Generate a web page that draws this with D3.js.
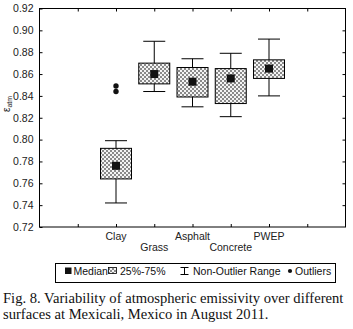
<!DOCTYPE html>
<html>
<head>
<meta charset="utf-8">
<script src="https://cdn.jsdelivr.net/npm/d3@7"></script>
<style>
    body { margin: 0; background: #fff; }
    svg { display: block; }
    .tick-label { font-family: "Liberation Sans", Arial, sans-serif; font-size: 10.5px; fill: #222; }
    .leg-label { font-family: "Liberation Sans", Arial, sans-serif; font-size: 10.5px; fill: #111; }
    .caption { font-family: "Liberation Serif", "Times New Roman", serif; font-size: 14.6px; fill: #111; }
</style>
</head>
<body>
<div id="chart"></div>
<script>
// surfaces, staggered on the x axis
const surfaces = ["Clay", "Grass", "Asphalt", "Concrete", "PWEP"];
// box plot statistics per surface (atmospheric emissivity)
const medians = [0.776, 0.860, 0.853, 0.856, 0.865];
const q1 = [0.764, 0.851, 0.839, 0.833, 0.856];
const q3 = [0.792, 0.870, 0.866, 0.865, 0.873];
const whiskLow = [0.742, 0.844, 0.830, 0.821, 0.840];
const whiskHigh = [0.799, 0.890, 0.874, 0.879, 0.892];
// outliers: [surface, value]
const outliers = [["Clay", 0.849], ["Clay", 0.844]];
const yTicks = [0.72, 0.74, 0.76, 0.78, 0.80, 0.82, 0.84, 0.86, 0.88, 0.90, 0.92];

const width = 353, height = 329;
const plot = {left: 39.5, right: 345.5, top: 8.5, bottom: 227};

let svg = d3.select("#chart").append("svg")
    .attr("width", width).attr("height", height);

// checkered fill used for the boxes
let defs = svg.append("defs");
let pat = defs.append("pattern").attr("id", "check")
    .attr("patternUnits", "userSpaceOnUse").attr("width", 4).attr("height", 4);
pat.append("rect").attr("width", 4).attr("height", 4).attr("fill", "#f4f4f4");
pat.append("rect").attr("width", 2).attr("height", 2).attr("fill", "#8a8a8a");
pat.append("rect").attr("x", 2).attr("y", 2).attr("width", 2).attr("height", 2).attr("fill", "#8a8a8a");

// x slots: one empty slot each side of the surfaces
let slots = ["pad0"].concat(surfaces).concat(["pad1"]);
let x = d3.scalePoint().domain(slots).range([plot.left, plot.right]).padding(1);
let y = d3.scaleLinear().domain([0.72, 0.92]).range([plot.bottom, plot.top]);

// axes with inward ticks on all four sides
let tickLen = 3;
svg.append("g").attr("transform", `translate(${plot.left},0)`)
    .call(d3.axisLeft(y).tickValues(yTicks).tickSizeInner(-tickLen).tickSizeOuter(0).tickPadding(6)
        .tickFormat(d3.format(".2f")))
    .call(g => g.select(".domain").remove())
    .call(g => g.selectAll("text").attr("class", "tick-label").attr("font-size", null).attr("font-family", null));
svg.append("g").attr("transform", `translate(${plot.right},0)`)
    .call(d3.axisRight(y).tickValues(yTicks.slice(1, -1)).tickSizeInner(-tickLen).tickSizeOuter(0).tickFormat(""))
    .call(g => g.select(".domain").remove());

let xTicks = x.domain();
svg.append("g").attr("transform", `translate(0,${plot.top})`)
    .call(d3.axisTop(x).tickValues(xTicks).tickSizeInner(-tickLen).tickSizeOuter(0).tickFormat(""))
    .call(g => g.select(".domain").remove());
svg.append("g").attr("transform", `translate(0,${plot.bottom})`)
    .call(d3.axisBottom(x).tickValues(xTicks).tickSizeInner(-tickLen).tickSizeOuter(0).tickFormat(""))
    .call(g => g.select(".domain").remove());

svg.append("rect")
    .attr("x", plot.left).attr("y", plot.top)
    .attr("width", plot.right - plot.left).attr("height", plot.bottom - plot.top)
    .attr("fill", "none").attr("stroke", "#000").attr("stroke-width", 1);

// staggered category labels
svg.selectAll(".xlab").data(surfaces).join("text")
    .attr("class", "tick-label xlab")
    .attr("x", d => x(d))
    .attr("y", (d, i) => i % 2 === 0 ? 240 : 250.5)
    .attr("text-anchor", "middle")
    .text(d => d);

// y axis label: epsilon atm
let ylab = svg.append("text").attr("class", "tick-label")
    .attr("transform", "translate(10,104) rotate(-90)")
    .attr("text-anchor", "middle");
ylab.append("tspan").text("ε").attr("font-size", "10px");
ylab.append("tspan").text("atm").attr("font-size", "7px").attr("dy", 2);

// box plots
let boxW = 31, capW = 22, medS = 8;
let boxes = svg.append("g").selectAll("g").data(surfaces).join("g");
boxes.append("line")
    .attr("x1", d => x(d)).attr("x2", d => x(d))
    .attr("y1", (d, i) => y(whiskHigh[i])).attr("y2", (d, i) => y(whiskLow[i]))
    .attr("stroke", "#000");
boxes.append("line")
    .attr("x1", d => x(d) - capW / 2).attr("x2", d => x(d) + capW / 2)
    .attr("y1", (d, i) => y(whiskHigh[i])).attr("y2", (d, i) => y(whiskHigh[i]))
    .attr("stroke", "#000");
boxes.append("line")
    .attr("x1", d => x(d) - capW / 2).attr("x2", d => x(d) + capW / 2)
    .attr("y1", (d, i) => y(whiskLow[i])).attr("y2", (d, i) => y(whiskLow[i]))
    .attr("stroke", "#000");
boxes.append("rect")
    .attr("x", d => x(d) - boxW / 2).attr("width", boxW)
    .attr("y", (d, i) => y(q3[i])).attr("height", (d, i) => y(q1[i]) - y(q3[i]))
    .attr("fill", "url(#check)").attr("stroke", "#000").attr("stroke-width", 1);
boxes.append("rect")
    .attr("x", d => x(d) - medS / 2).attr("width", medS)
    .attr("y", (d, i) => y(medians[i]) - medS / 2).attr("height", medS)
    .attr("fill", "#111");

svg.append("g").selectAll("circle").data(outliers).join("circle")
    .attr("cx", d => x(d[0])).attr("cy", d => y(d[1]))
    .attr("r", 2.7).attr("fill", "#111");

// legend
let leg = svg.append("g");
leg.append("rect").attr("x", 55.5).attr("y", 263.5).attr("width", 280).attr("height", 19)
    .attr("fill", "#fff").attr("stroke", "#000");
let ly = 274.5;
leg.append("rect").attr("x", 65).attr("y", 267.5).attr("width", 6.5).attr("height", 6.5).attr("fill", "#111");
leg.append("text").attr("class", "leg-label").attr("font-size", "10px").attr("x", 73.5).attr("y", ly).text("Median");
leg.append("rect").attr("x", 108.5).attr("y", 267.5).attr("width", 8).attr("height", 6)
    .attr("fill", "url(#check)").attr("stroke", "#000").attr("stroke-width", 0.8);
leg.append("text").attr("class", "leg-label").attr("x", 120).attr("y", ly).text("25%-75%");
let ix = 184.5;
leg.append("path")
    .attr("d", `M${ix - 4},267.5H${ix + 4}M${ix},267.5V274.5M${ix - 4},274.5H${ix + 4}`)
    .attr("stroke", "#000").attr("fill", "none");
leg.append("text").attr("class", "leg-label").attr("x", 193).attr("y", ly).text("Non-Outlier Range");
leg.append("circle").attr("cx", 290).attr("cy", 271).attr("r", 2.1).attr("fill", "#111");
leg.append("text").attr("class", "leg-label").attr("x", 295).attr("y", ly).text("Outliers");

// figure caption
svg.append("text").attr("class", "caption").attr("x", 3).attr("y", 303)
    .text("Fig. 8. Variability of atmospheric emissivity over different");
svg.append("text").attr("class", "caption").attr("x", 3).attr("y", 318.5)
    .text("surfaces at Mexicali, Mexico in August 2011.");
</script>
</body>
</html>
